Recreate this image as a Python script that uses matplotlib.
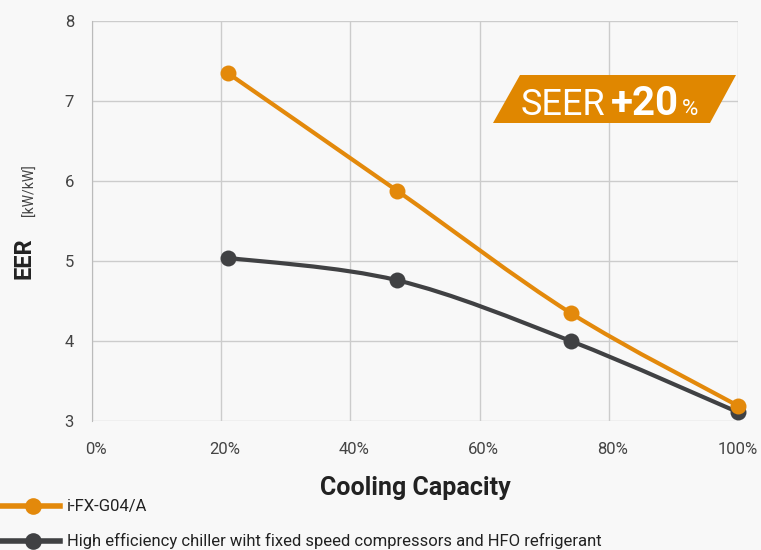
import numpy as np
import matplotlib.pyplot as plt
from matplotlib.path import Path
from matplotlib.patches import PathPatch, Polygon
from matplotlib.lines import Line2D
from matplotlib.transforms import offset_copy

# ── Data ─────────────────────────────────────────────
capacity_fx = [21.0, 47.2, 74.1, 100]
eer_fx = [7.35, 5.88, 4.35, 3.19]
capacity_hfo = [21.0, 47.2, 74.1, 100]
eer_hfo = [5.04, 4.76, 4.00, 3.11]
x_ticks = [0, 20, 40, 60, 80, 100]
x_labels = ["0%", "20%", "40%", "60%", "80%", "100%"]
y_ticks = [3, 4, 5, 6, 7, 8]

ORANGE = "#e3890b"
DARK = "#404143"
BG = "#f8f8f8"
GRID = "#cccccc"
TXT = "#222222"

plt.rcParams["font.family"] = ["Roboto", "DejaVu Sans"]


def smooth_path(xs, ys):
    """Catmull-Rom through the points, as cubic Bezier segments."""
    pts = np.column_stack([xs, ys]).astype(float)
    verts = [pts[0]]
    codes = [Path.MOVETO]
    n = len(pts)
    for i in range(n - 1):
        p0 = pts[i - 1] if i > 0 else pts[i]
        p1, p2 = pts[i], pts[i + 1]
        p3 = pts[i + 2] if i + 2 < n else pts[i + 1]
        c1 = p1 + (p2 - p0) / 6
        c2 = p2 - (p3 - p1) / 6
        verts += [c1, c2, p2]
        codes += [Path.CURVE4] * 3
    return Path(verts, codes)


W, H = 761, 550
fig = plt.figure(figsize=(W / 100, H / 100), dpi=100)
fig.patch.set_facecolor(BG)
ax = fig.add_axes([92 / W, 1 - 421 / H, 646 / W, 400 / H])
ax.set_facecolor(BG)

for xs, ys, col in [(capacity_hfo, eer_hfo, DARK), (capacity_fx, eer_fx, ORANGE)]:
    ax.add_patch(PathPatch(smooth_path(xs, ys), facecolor="none", edgecolor=col,
                           lw=3.0, capstyle="round", zorder=3, clip_on=False))
    ax.plot(xs, ys, "o", color=col, ms=11.5, mew=0, zorder=4, clip_on=False)

ax.set_xlim(0, 100)
ax.set_ylim(3, 8)
ax.set_xticks(x_ticks)
ax.set_xticklabels(x_labels)
ax.set_yticks(y_ticks)
ax.tick_params(length=0, labelsize=12, colors="#444444")
ax.tick_params(axis="x", pad=15)
ax.tick_params(axis="y", pad=13)
# nudge the x labels a little right, except the last one at the edge
for lbl, dx in zip(ax.get_xticklabels(), [4, 4, 4, 4, 4, 0]):
    lbl.set_transform(offset_copy(lbl.get_transform(), fig=fig, x=dx, units="dots"))
ax.grid(True, color=GRID, lw=1)
for side in ["top", "right", "bottom"]:
    ax.spines[side].set_visible(False)
ax.spines["left"].set_color("#bbbbbb")
ax.set_axisbelow(True)

# axis labels
fig.text(415 / W, 1 - 488 / H, "Cooling Capacity", fontsize=18, fontweight="bold",
         color=TXT, ha="center", va="center")
fig.text(24 / W, 1 - 258 / H, "EER", fontsize=17, fontweight="bold", color=TXT,
         rotation=90, ha="center", va="center")
fig.text(30 / W, 1 - 190 / H, "[kW/kW]", fontsize=10, color="#444444",
         rotation=90, ha="center", va="center")

# SEER badge
badge = [(520, 75), (736, 75), (710, 123), (493, 123)]
fig.patches.append(Polygon([(x / W, 1 - y / H) for x, y in badge], closed=True,
                           transform=fig.transFigure, facecolor="#e08700",
                           edgecolor="none", zorder=5))
fig.text(521 / W, 1 - 115 / H, "SEER", fontsize=26, color="white", zorder=6,
         ha="left", va="baseline")
fig.text(611 / W, 1 - 115 / H, "+20", fontsize=29, fontweight="bold",
         color="white", zorder=6, ha="left", va="baseline")
fig.text(682 / W, 1 - 115 / H, "%", fontsize=16, color="white", zorder=6,
         ha="left", va="baseline")

# legend
for y, col, label in [(506, ORANGE, "i-FX-G04/A"),
                      (541, DARK, "High efficiency chiller wiht fixed speed compressors and HFO refrigerant")]:
    fy = 1 - y / H
    fig.lines.append(Line2D([0, 60 / W], [fy, fy], color=col, lw=4,
                            transform=fig.transFigure))
    fig.lines.append(Line2D([33 / W], [fy], marker="o", color=col, ms=12, mew=0,
                            transform=fig.transFigure))
    fig.text(67 / W, fy, label, fontsize=12, color=TXT, ha="left", va="center")

fig.savefig("out.png", dpi=100, facecolor=BG)
